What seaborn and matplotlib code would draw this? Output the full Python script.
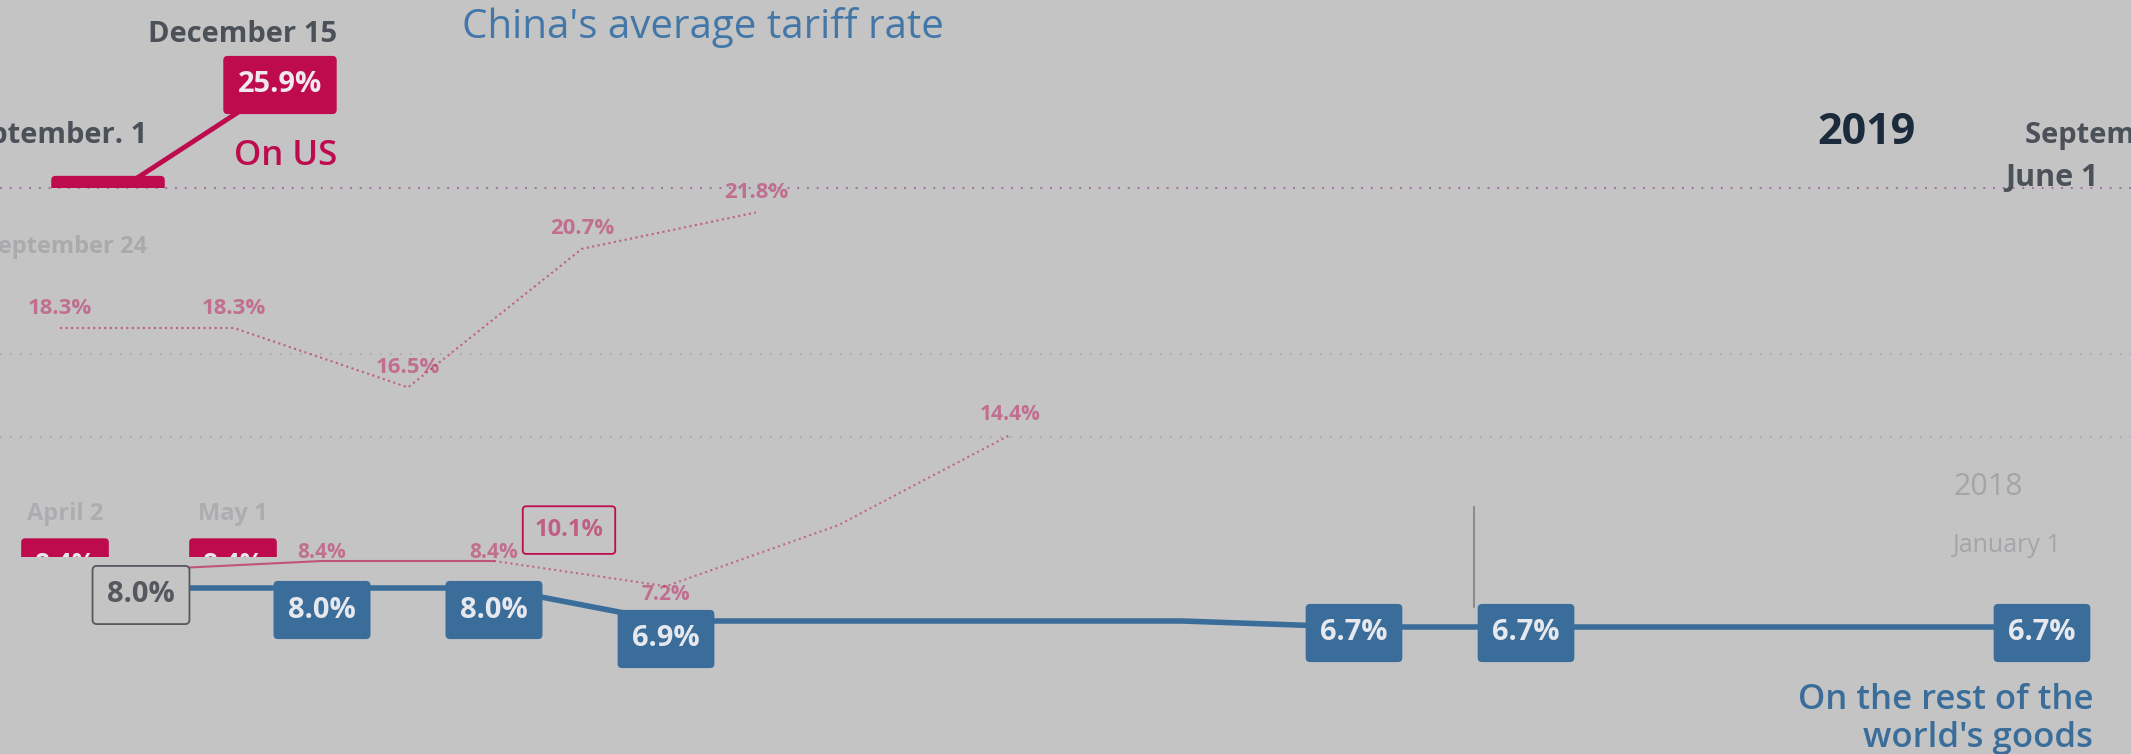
import matplotlib.pyplot as plt
import pandas as pd
import seaborn as sns

# tariff-change events, one step each on the animated timeline
events = ['January 1', 'April 2', 'May 1', 'July 1', 'July 6', 'August 23',
          'September 24', 'November 1', 'January 1', 'June 1', 'September. 1', 'December 15']
us_rate = [8.0, 8.4, 8.4, 7.2, 10.1, 14.4, 18.3, 18.3, 16.5, 20.7, 21.8, 25.9]
world_rate = [8.0, 8.0, 8.0, 6.9, 6.9, 6.9, 6.9, 6.7, 6.7, 6.7, 6.7, 6.7]
world_labelled = [0, 1, 2, 3, 7, 8, 11]

df = pd.DataFrame({'step': range(len(events)), 'event': events,
                   'us': us_rate, 'world': world_rate})

bg = '#c4c4c4'
pink = '#bd0b4e'
blue = '#3a6d9a'
dark = '#4b5158'
W, H = 2131, 754

sns.set_theme(style='white')
plt.rcParams['font.family'] = ['Open Sans', 'DejaVu Sans']

fig = plt.figure(figsize=(W / 100, H / 100), dpi=100)
fig.patch.set_facecolor(bg)


def frame(x0, step_px, v_ref, y_ref, px_pct, top=0, bottom=H):
    # one "frame" of the animation: its own pan/zoom of the same timeline
    ax = fig.add_axes([0, 1 - bottom / H, 1, (bottom - top) / H])
    ax.set_facecolor('none')
    ax.set_xlim(-x0 / step_px, (W - x0) / step_px)
    ax.set_ylim(v_ref - (bottom - y_ref) / px_pct, v_ref + (y_ref - top) / px_pct)
    ax.set_axis_off()
    return ax


def label(ax, i, col, text, fc, tc, dy=0, dx=0, size=21, ec='none', clip=False,
          alpha=1.0, weight='bold', ha='center', boxed=True):
    t = ax.annotate(text, (df.step[i], df[col][i]), xytext=(dx, dy),
                    textcoords='offset pixels', ha=ha, va='center',
                    fontsize=size, fontweight=weight, color=tc, alpha=alpha,
                    annotation_clip=False, zorder=5,
                    bbox=dict(boxstyle='round,pad=0.5,rounding_size=0.15',
                              fc=fc, ec=ec, lw=1.3) if boxed else None)
    if clip:
        t.set_clip_path(ax.patch)
    return t


# ghost frame: late 2018 - 2019 (faded)
ax_ga = frame(-984, 174, 18.3, 328, 33)
ax_ga.axhline(17.5, color='#9a8fa0', lw=1.2, ls=(0, (1, 5)), alpha=0.6)
ax_ga.axhline(15, color='#9a8fa0', lw=1.2, ls=(0, (1, 5)), alpha=0.6)
sns.lineplot(data=df.iloc[6:11], x='step', y='us', ax=ax_ga, color=pink,
             lw=1.5, ls=':', alpha=0.55, legend=False)
for i in range(6, 11):
    label(ax_ga, i, 'us', f'{df.us[i]:.1f}%', 'none', pink, dy=20, size=16,
          alpha=0.45, boxed=False)
label(ax_ga, 6, 'us', df.event[6], 'none', '#8e9196', dy=81, dx=87, size=17,
      alpha=0.5, ha='right', boxed=False)

# ghost frame: early 2018 (faded)
ax_gb = frame(150, 172, 8.4, 561, 21)
sns.lineplot(data=df.iloc[0:3], x='step', y='us', ax=ax_gb, color=pink,
             lw=1.5, alpha=0.6, legend=False)
sns.lineplot(data=df.iloc[2:6], x='step', y='us', ax=ax_gb, color=pink,
             lw=1.5, ls=':', alpha=0.5, legend=False)
for i, dy in zip([1, 2, 3, 5], [8, 8, -8, 20]):
    label(ax_gb, i, 'us', f'{df.us[i]:.1f}%', 'none', pink, dy=dy, size=15,
          alpha=0.45, boxed=False)

# ghost frame: April / May boxes, cut by the frame edge
ax_gc = frame(-103, 168, 8.4, 560, 17.6, bottom=557)
for i in [1, 2]:
    label(ax_gc, i, 'us', f'{df.us[i]:.1f}%', pink, '#e8e8ec', dy=-5,
          size=19, clip=True)
    label(ax_gc, i, 'us', df.event[i], 'none', '#9c9ea3', dy=46, size=17,
          alpha=0.6, boxed=False)
label(ax_gc, 4, 'us', f'{df.us[4]:.1f}%', 'none', pink, size=17, ec=pink,
      alpha=0.55)

# main frame: rest of the world
ax_w = frame(150, 172, 8.0, 588, 30)
ax_w.axvline(7.7, ymin=1 - 607 / H, ymax=1 - 507 / H, color='#8c8c8c', lw=1.5)
sns.lineplot(data=df, x='step', y='world', ax=ax_w, color=blue, lw=4,
             legend=False, zorder=3)
offsets = [-7, -22, -22, -18, -6, -6, -6]
for i, dy in zip(world_labelled, offsets):
    if i == 0:
        label(ax_w, i, 'world', f'{df.world[i]:.1f}%', bg, '#55595f', dy=dy,
              dx=-9, ec='#55595f')
    else:
        label(ax_w, i, 'world', f'{df.world[i]:.1f}%', blue, '#e6e8ee', dy=dy)

# top frame: US, zoomed onto the last two steps
ax_us = frame(-1612, 172, 25.9, 85, 27.3, bottom=188)
ax_us.axhline(ax_us.get_ylim()[0], color='#a0709a', lw=1.4, ls=(0, (1, 4)),
              clip_on=False)
sns.lineplot(data=df, x='step', y='us', ax=ax_us, color=pink, lw=3.5,
             legend=False, zorder=3)
label(ax_us, 10, 'us', f'{df.us[10]:.1f}%', pink, '#f0e8ec', dy=-8,
      clip=True)
label(ax_us, 11, 'us', f'{df.us[11]:.1f}%', pink, '#f0e8ec')
label(ax_us, 10, 'us', df.event[10], 'none', dark, dy=61, dx=39, size=21,
      ha='right', boxed=False)
label(ax_us, 11, 'us', df.event[11], 'none', dark, dy=51, dx=57, size=21,
      ha='right', boxed=False)
label(ax_us, 11, 'us', 'On US', 'none', pink, dy=-71, dx=57, size=25,
      weight='semibold', ha='right', boxed=False)

# titles and stray frame labels
fig.text(703 / W, 1 - 27 / H, "China's average tariff rate", ha='center',
         va='center', fontsize=29, color='#4277a8')
fig.text(1866 / W, 1 - 133 / H, '2019', ha='center', va='center', fontsize=31,
         fontweight='bold', color='#1c2b3b')
fig.text(2025 / W, 1 - 135 / H, 'September 1', ha='left', va='center',
         fontsize=21, fontweight='bold', color=dark)
fig.text(2052 / W, 1 - 178 / H, 'June 1', ha='center', va='center',
         fontsize=22, fontweight='bold', color=dark)
fig.text(1988 / W, 1 - 487 / H, '2018', ha='center', va='center',
         fontsize=22, color='#8e9196', alpha=0.6)
fig.text(2007 / W, 1 - 545 / H, 'January 1', ha='center', va='center',
         fontsize=18, color='#8e9196', alpha=0.6)
fig.text(2093 / W, 1 - 700 / H, 'On the rest of the', ha='right', va='center',
         fontsize=25, fontweight='semibold', color=blue)
fig.text(2093 / W, 1 - 738 / H, "world's goods", ha='right', va='center',
         fontsize=25, fontweight='semibold', color=blue)

fig.savefig('out.png', dpi=100, facecolor=bg)
